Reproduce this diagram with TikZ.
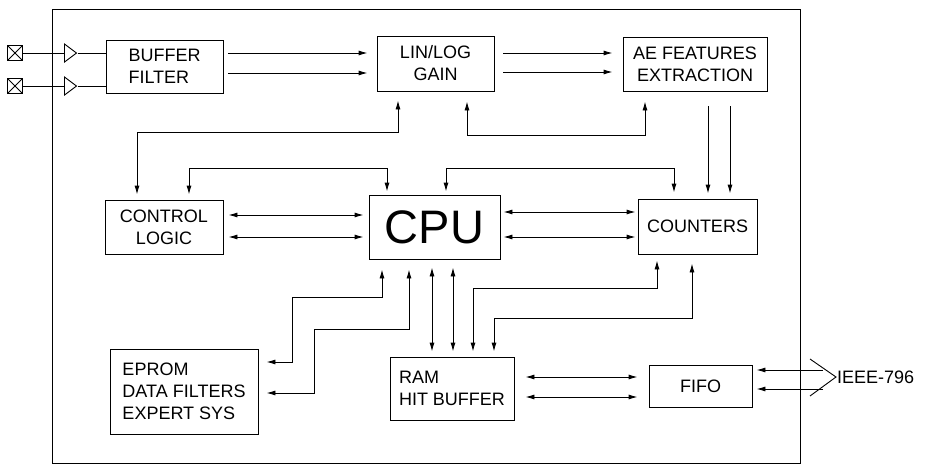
\documentclass[tikz,border=0pt]{standalone}
\usepackage{fontspec}
\setmainfont{Liberation Sans}
\usetikzlibrary{arrows.meta,shapes.geometric}

\begin{document}
\begin{tikzpicture}[x=1pt,y=-1pt,
    blk/.style={draw,rectangle,line width=0.9pt,inner sep=0pt,
                font=\fontsize{18}{22}\selectfont,align=center},
    sig/.style={draw,line width=0.9pt,-{Latex[length=9pt,width=5pt]},
                shorten <=5pt,shorten >=5pt},
    bus/.style={draw,line width=0.9pt,
                {Latex[length=9pt,width=5pt]}-{Latex[length=9pt,width=5pt]},
                shorten <=5pt,shorten >=5pt},
    wire/.style={draw,line width=0.9pt},
    pad/.style={draw,rectangle,minimum size=15pt,inner sep=0pt,line width=1pt,
                path picture={\draw[line width=1pt]
                  (path picture bounding box.south west)--(path picture bounding box.north east)
                  (path picture bounding box.north west)--(path picture bounding box.south east);}},
    amp/.style={draw,isosceles triangle,isosceles triangle stretches,
                minimum width=18pt,minimum height=12pt,inner sep=0pt,line width=0.9pt}
  ]
  \useasboundingbox (0,0) rectangle (928,466);
  \draw[line width=0.9pt] (52,9) rectangle (800,463);

  \node[pad] (p1) at (15,53) {};
  \node[pad] (p2) at (15,86) {};
  \node[amp] (a1) at (69,53) {};
  \node[amp] (a2) at (69,86) {};
  \node[blk,minimum width=117pt,minimum height=53pt,align=left] (buf) at (164.5,66.5) {BUFFER\\FILTER};
  \node[blk,minimum width=117pt,minimum height=55pt] (gain) at (435.5,63.5) {LIN/LOG\\GAIN};
  \node[blk,minimum width=144pt,minimum height=54pt] (feat) at (695,64) {AE FEATURES\\EXTRACTION};
  \node[blk,minimum width=118pt,minimum height=54pt] (ctrl) at (164,227) {CONTROL\\LOGIC};
  \node[blk,minimum width=131pt,minimum height=64pt,font=\fontsize{47}{50}\selectfont] (cpu) at (434.5,227) {CPU};
  \node[blk,minimum width=119pt,minimum height=55pt] (cnt) at (697.5,226.5) {COUNTERS};
  \node[blk,minimum width=148pt,minimum height=85pt,align=left] (eprom) at (184,391.5) {EPROM\\DATA FILTERS\\EXPERT SYS};
  \node[blk,minimum width=124pt,minimum height=63pt,align=left] (ram) at (452,388.5) {RAM\\HIT BUFFER};
  \node[blk,minimum width=103pt,minimum height=42pt] (fifo) at (700.5,386) {FIFO};

  \draw[wire] (p1.east) -- (a1.west);
  \draw[wire] (p2.east) -- (a2.west);
  \draw[wire] (a1.east) -- (a1.east -| buf.west);
  \draw[wire] (a2.east) -- (a2.east -| buf.west);

  \coordinate (b1) at ([yshift=13.5pt]buf.east);
  \coordinate (b2) at ([yshift=-6.5pt]buf.east);
  \draw[sig,shorten >=9pt] (b1) -- (b1 -| gain.west);
  \draw[sig,shorten >=9pt] (b2) -- (b2 -| gain.west);
  \coordinate (g1) at ([yshift=10.5pt]gain.east);
  \coordinate (g2) at ([yshift=-8.5pt]gain.east);
  \draw[sig,shorten <=9pt,shorten >=10pt] (g1) -- (g1 -| feat.west);
  \draw[sig,shorten <=9pt,shorten >=10pt] (g2) -- (g2 -| feat.west);

  \coordinate (c1) at ([yshift=12pt]ctrl.east);
  \coordinate (c2) at ([yshift=-10pt]ctrl.east);
  \draw[bus] (c1) -- (c1 -| cpu.west);
  \draw[bus] (c2) -- (c2 -| cpu.west);
  \coordinate (u1) at ([yshift=15pt]cpu.east);
  \coordinate (u2) at ([yshift=-10pt]cpu.east);
  \draw[bus,shorten <=3pt,shorten >=2pt] (u1) -- (u1 -| cnt.west);
  \draw[bus,shorten <=3pt,shorten >=2pt] (u2) -- (u2 -| cnt.west);

  \draw[bus,shorten >=9pt] ([xshift=-27pt]ctrl.north) -- ++(0,-67) -| ([xshift=-37.5pt]gain.south);
  \draw[bus,shorten <=10pt,shorten >=10pt] ([xshift=31.5pt]gain.south) -- ++(0,44) -| ([xshift=-50pt]feat.south);
  \draw[bus,shorten >=3pt] ([xshift=25pt]ctrl.north) -- ++(0,-31) -| ([xshift=-47.5pt]cpu.north);
  \draw[bus,shorten <=3pt,shorten >=6pt] ([xshift=11.5pt]cpu.north) -- ++(0,-26) -| ([xshift=-23.5pt]cnt.north);

  \coordinate (f1) at ([xshift=13pt]feat.south);
  \coordinate (f2) at ([xshift=35pt]feat.south);
  \draw[sig,shorten <=15pt] (f1) -- (f1 |- cnt.north);
  \draw[sig,shorten <=15pt] (f2) -- (f2 |- cnt.north);

  \coordinate (d1) at ([xshift=-52.5pt]cpu.south);
  \coordinate (d2) at ([xshift=-25.5pt]cpu.south);
  \coordinate (e1) at ([yshift=29.5pt]eprom.east);
  \coordinate (e2) at ([yshift=-1.5pt]eprom.east);
  \draw[bus,shorten <=10pt,shorten >=8pt] (d1) -- ++(0,38) -- ++(-90,0) |- (e1);
  \draw[bus,shorten <=10pt,shorten >=8pt] (d2) -- ++(0,70) -- ++(-95,0) |- (e2);

  \coordinate (d3) at ([xshift=-2.5pt]cpu.south);
  \coordinate (d4) at ([xshift=18.5pt]cpu.south);
  \draw[bus,shorten <=8pt] (d3) -- (d3 |- ram.north);
  \draw[bus,shorten <=8pt] (d4) -- (d4 |- ram.north);

  \draw[bus,shorten >=6pt] ([xshift=21pt]ram.north) -- ++(0,-68) -| ([xshift=-40.5pt]cnt.south);
  \draw[bus,shorten >=9pt] ([xshift=42pt]ram.north) -- ++(0,-38) -| ([xshift=-5.5pt]cnt.south);

  \coordinate (r1) at ([yshift=11.5pt]ram.east);
  \coordinate (r2) at ([yshift=-8.5pt]ram.east);
  \draw[bus,shorten <=11pt,shorten >=11pt] (r1) -- (r1 -| fifo.west);
  \draw[bus,shorten <=11pt,shorten >=11pt] (r2) -- (r2 -| fifo.west);

  \coordinate (i1) at (823,370);
  \coordinate (i2) at (823,389);
  \draw[sig,shorten <=0pt,shorten >=4pt] (i1) -- (i1 -| fifo.east);
  \draw[sig,shorten <=0pt,shorten >=4pt] (i2) -- (i2 -| fifo.east);
  \coordinate (v0) at (836,377);
  \coordinate (v1) at (810,359);
  \coordinate (v2) at (810,396);
  \draw[wire] (v1) -- (v0) -- (v2);
  \node[anchor=west,inner sep=1pt,font=\fontsize{18}{22}\selectfont] (ieee) at (v0) {IEEE-796};
\end{tikzpicture}
\end{document}
